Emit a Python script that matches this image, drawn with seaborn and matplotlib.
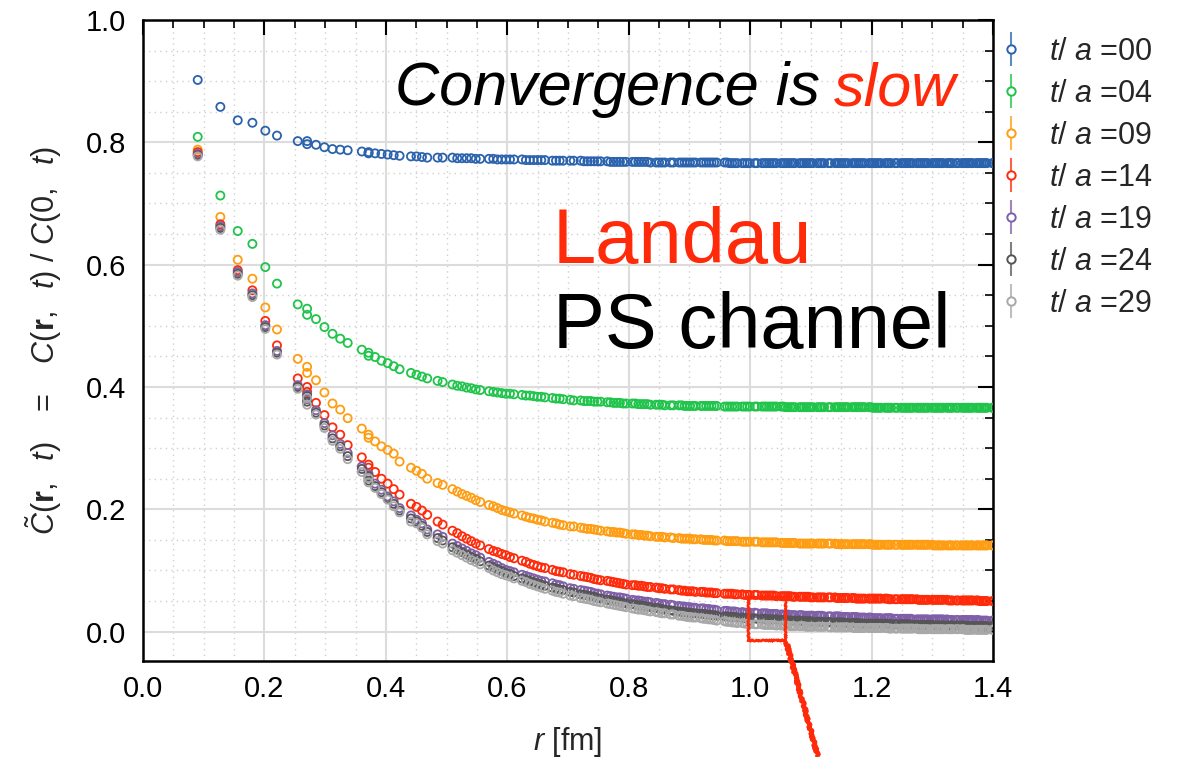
import matplotlib
matplotlib.use("Agg")
import matplotlib.pyplot as plt
from matplotlib.lines import Line2D
from matplotlib.patches import Rectangle
from matplotlib.ticker import MultipleLocator, FormatStrFormatter
import numpy as np
import pandas as pd
import seaborn as sns

# Lattice spacing used to convert the shell index n = |r/a|^2 to fm
LATTICE_SPACING_FM = 0.0901

# shells (|r/a|^2) of the lattice; 9 and 17 hold two inequivalent vector classes
shell = [
    1, 2, 3, 4, 5, 6, 8, 9, 9, 10,
    11, 12, 13, 14, 16, 17, 17, 18, 19, 20,
    21, 22, 24, 25, 26, 27, 29,
    30, 32, 33, 34, 35, 36, 37, 38, 40, 41,
    42, 43, 44,
    45, 46, 48, 49, 50, 51, 52, 53, 54, 56,
    57, 58, 59, 61,
    62, 64, 65, 66, 67, 68, 69, 70, 72, 73,
    74, 75, 76, 77, 78,
    80, 81, 82, 83, 84, 85, 86, 88, 89, 90,
    91, 93, 94, 96, 97, 98, 99,
    100, 101, 102, 104, 105, 106, 107, 108, 109, 110,
    113, 114, 115, 116, 117, 118, 120, 121, 122, 123,
    125, 126, 128, 129, 130, 131, 132, 133, 134, 136,
    137, 138, 139, 140, 141, 142, 144, 145, 146, 147,
    148, 149,
    150, 152, 153, 154, 155, 157, 158, 160, 161, 162,
    163, 164, 165, 166, 168, 169, 170, 171, 172, 173,
    174, 176, 177,
    178, 179, 180, 181, 182, 184, 185, 186, 187, 189,
    190, 192, 193, 194, 195, 196, 197, 198, 200, 201,
    202, 203, 204, 205, 206, 208,
    209, 210, 211, 212, 213, 214, 216, 217, 218, 219,
    221, 222, 224, 225, 226, 227, 228, 229, 230, 232,
    233, 234, 235, 236, 237, 238, 241, 242,
]

c_t00 = [
    0.902, 0.858, 0.836, 0.832, 0.819, 0.811, 0.802, 0.802, 0.797, 0.796,
    0.792, 0.789, 0.788, 0.787, 0.785, 0.784, 0.782, 0.782, 0.781, 0.780,
    0.779, 0.778, 0.777, 0.777, 0.776, 0.775, 0.775,
    0.775, 0.775, 0.774, 0.774, 0.774, 0.774, 0.773, 0.773, 0.773, 0.773,
    0.772, 0.772, 0.772,
    0.772, 0.772, 0.772, 0.771, 0.771, 0.771, 0.771, 0.771, 0.771, 0.770,
    0.770, 0.770, 0.770, 0.770,
    0.770, 0.770, 0.769, 0.769, 0.769, 0.769, 0.769, 0.769, 0.769, 0.768,
    0.768, 0.768, 0.768, 0.768, 0.768,
    0.768, 0.768, 0.768, 0.768, 0.768, 0.768, 0.767, 0.767, 0.767, 0.767,
    0.767, 0.767, 0.767, 0.767, 0.767, 0.767, 0.767,
    0.767, 0.767, 0.767, 0.767, 0.767, 0.767, 0.767, 0.767, 0.767, 0.767,
    0.767, 0.767, 0.766, 0.766, 0.766, 0.766, 0.766, 0.766, 0.766, 0.766,
    0.766, 0.766, 0.766, 0.766, 0.766, 0.766, 0.766, 0.766, 0.766, 0.766,
    0.766, 0.766, 0.766, 0.766, 0.766, 0.766, 0.766, 0.766, 0.766, 0.766,
    0.766, 0.766,
    0.766, 0.766, 0.766, 0.766, 0.766, 0.766, 0.766, 0.766, 0.766, 0.766,
    0.766, 0.766, 0.766, 0.766, 0.766, 0.766, 0.766, 0.766, 0.766, 0.766,
    0.766, 0.766, 0.766,
    0.766, 0.766, 0.766, 0.766, 0.766, 0.766, 0.766, 0.766, 0.766, 0.766,
    0.766, 0.766, 0.766, 0.766, 0.766, 0.766, 0.766, 0.766, 0.766, 0.766,
    0.766, 0.766, 0.766, 0.766, 0.766, 0.766,
    0.766, 0.766, 0.766, 0.766, 0.766, 0.766, 0.766, 0.766, 0.766, 0.766,
    0.766, 0.766, 0.766, 0.766, 0.766, 0.766, 0.766, 0.766, 0.766, 0.766,
    0.766, 0.766, 0.766, 0.766, 0.766, 0.766, 0.766, 0.766,
]

c_t04 = [
    0.809, 0.713, 0.655, 0.634, 0.596, 0.569, 0.535, 0.528, 0.518, 0.511,
    0.498, 0.487, 0.479, 0.472, 0.461, 0.456, 0.451, 0.449, 0.443, 0.439,
    0.434, 0.429, 0.423, 0.420, 0.417, 0.414, 0.410,
    0.408, 0.404, 0.402, 0.401, 0.399, 0.398, 0.396, 0.395, 0.393, 0.392,
    0.391, 0.390, 0.389,
    0.389, 0.388, 0.387, 0.386, 0.386, 0.385, 0.384, 0.384, 0.383, 0.382,
    0.381, 0.381, 0.380, 0.379,
    0.378, 0.378, 0.377, 0.377, 0.377, 0.376, 0.376, 0.376, 0.375, 0.375,
    0.374, 0.374, 0.374, 0.373, 0.373,
    0.373, 0.373, 0.372, 0.372, 0.372, 0.372, 0.371, 0.371, 0.371, 0.371,
    0.370, 0.370, 0.370, 0.370, 0.370, 0.369, 0.369,
    0.369, 0.369, 0.369, 0.369, 0.369, 0.369, 0.369, 0.369, 0.369, 0.369,
    0.368, 0.368, 0.368, 0.368, 0.368, 0.368, 0.368, 0.368, 0.368, 0.368,
    0.368, 0.368, 0.368, 0.368, 0.368, 0.368, 0.368, 0.368, 0.368, 0.368,
    0.368, 0.367, 0.367, 0.367, 0.367, 0.367, 0.367, 0.367, 0.367, 0.367,
    0.367, 0.367,
    0.367, 0.367, 0.367, 0.367, 0.367, 0.367, 0.367, 0.367, 0.367, 0.367,
    0.367, 0.367, 0.367, 0.367, 0.367, 0.367, 0.367, 0.367, 0.367, 0.367,
    0.367, 0.367, 0.367,
    0.366, 0.366, 0.366, 0.366, 0.366, 0.366, 0.366, 0.366, 0.366, 0.366,
    0.366, 0.366, 0.366, 0.366, 0.366, 0.366, 0.366, 0.366, 0.366, 0.366,
    0.366, 0.366, 0.366, 0.366, 0.366, 0.366,
    0.366, 0.366, 0.366, 0.366, 0.366, 0.366, 0.366, 0.366, 0.366, 0.366,
    0.366, 0.366, 0.366, 0.366, 0.366, 0.366, 0.366, 0.366, 0.366, 0.366,
    0.366, 0.366, 0.366, 0.366, 0.366, 0.366, 0.366, 0.366,
]

c_t09 = [
    0.788, 0.678, 0.608, 0.577, 0.530, 0.494, 0.446, 0.433, 0.423, 0.411,
    0.391, 0.373, 0.363, 0.349, 0.332, 0.322, 0.317, 0.311, 0.303, 0.297,
    0.291, 0.278, 0.268, 0.263, 0.258, 0.250, 0.243,
    0.240, 0.233, 0.229, 0.225, 0.222, 0.219, 0.215, 0.212, 0.207, 0.205,
    0.202, 0.199, 0.197,
    0.195, 0.193, 0.190, 0.188, 0.186, 0.185, 0.183, 0.182, 0.180, 0.178,
    0.177, 0.175, 0.174, 0.172,
    0.172, 0.170, 0.169, 0.168, 0.168, 0.167, 0.166, 0.165, 0.164, 0.163,
    0.163, 0.162, 0.162, 0.161, 0.160,
    0.159, 0.159, 0.158, 0.158, 0.157, 0.157, 0.156, 0.155, 0.155, 0.155,
    0.154, 0.154, 0.153, 0.153, 0.152, 0.152, 0.152,
    0.152, 0.151, 0.151, 0.151, 0.150, 0.150, 0.150, 0.150, 0.149, 0.149,
    0.149, 0.148, 0.148, 0.148, 0.148, 0.148, 0.147, 0.147, 0.147, 0.147,
    0.147, 0.147, 0.146, 0.146, 0.146, 0.146, 0.146, 0.146, 0.146, 0.145,
    0.145, 0.145, 0.145, 0.145, 0.145, 0.145, 0.144, 0.144, 0.144, 0.144,
    0.144, 0.144,
    0.144, 0.144, 0.144, 0.144, 0.144, 0.144, 0.144, 0.144, 0.143, 0.143,
    0.143, 0.143, 0.143, 0.143, 0.143, 0.143, 0.143, 0.143, 0.143, 0.143,
    0.143, 0.143, 0.143,
    0.142, 0.142, 0.142, 0.142, 0.142, 0.142, 0.142, 0.142, 0.142, 0.142,
    0.142, 0.142, 0.142, 0.142, 0.142, 0.142, 0.142, 0.142, 0.142, 0.142,
    0.142, 0.142, 0.142, 0.142, 0.142, 0.142,
    0.141, 0.141, 0.141, 0.141, 0.141, 0.141, 0.141, 0.141, 0.141, 0.141,
    0.141, 0.141, 0.141, 0.141, 0.141, 0.141, 0.141, 0.141, 0.141, 0.141,
    0.141, 0.141, 0.141, 0.141, 0.141, 0.141, 0.141, 0.141,
]

c_t14 = [
    0.784, 0.666, 0.591, 0.558, 0.508, 0.468, 0.414, 0.400, 0.392, 0.374,
    0.354, 0.334, 0.322, 0.305, 0.285, 0.273, 0.268, 0.261, 0.250, 0.242,
    0.233, 0.224, 0.209, 0.204, 0.198, 0.191, 0.180,
    0.175, 0.165, 0.161, 0.156, 0.152, 0.148, 0.144, 0.141, 0.135, 0.132,
    0.130, 0.127, 0.125,
    0.122, 0.120, 0.116, 0.114, 0.111, 0.109, 0.107, 0.105, 0.104, 0.101,
    0.099, 0.098, 0.097, 0.094,
    0.093, 0.091, 0.090, 0.089, 0.088, 0.086, 0.085, 0.084, 0.083, 0.082,
    0.081, 0.080, 0.079, 0.078, 0.077,
    0.076, 0.076, 0.075, 0.075, 0.074, 0.073, 0.073, 0.072, 0.071, 0.071,
    0.070, 0.069, 0.069, 0.068, 0.067, 0.067, 0.066,
    0.066, 0.066, 0.065, 0.065, 0.065, 0.064, 0.064, 0.064, 0.063, 0.063,
    0.062, 0.062, 0.062, 0.062, 0.061, 0.061, 0.061, 0.060, 0.060, 0.060,
    0.060, 0.060, 0.059, 0.059, 0.059, 0.059, 0.059, 0.059, 0.058, 0.058,
    0.058, 0.058, 0.058, 0.058, 0.057, 0.057, 0.057, 0.057, 0.057, 0.057,
    0.057, 0.056,
    0.056, 0.056, 0.056, 0.056, 0.056, 0.056, 0.056, 0.056, 0.055, 0.055,
    0.055, 0.055, 0.055, 0.055, 0.055, 0.055, 0.054, 0.054, 0.054, 0.054,
    0.054, 0.054, 0.054,
    0.054, 0.054, 0.054, 0.054, 0.054, 0.054, 0.054, 0.053, 0.053, 0.053,
    0.053, 0.053, 0.053, 0.053, 0.053, 0.053, 0.053, 0.053, 0.053, 0.052,
    0.052, 0.052, 0.052, 0.052, 0.052, 0.052,
    0.052, 0.052, 0.052, 0.052, 0.052, 0.052, 0.052, 0.051, 0.051, 0.051,
    0.051, 0.051, 0.051, 0.051, 0.051, 0.051, 0.051, 0.051, 0.051, 0.051,
    0.051, 0.050, 0.050, 0.050, 0.050, 0.050, 0.050, 0.050,
]

c_t19 = [
    0.781, 0.663, 0.588, 0.553, 0.501, 0.459, 0.403, 0.388, 0.380, 0.362,
    0.341, 0.321, 0.307, 0.292, 0.270, 0.258, 0.251, 0.242, 0.232, 0.221,
    0.213, 0.202, 0.190, 0.183, 0.177, 0.167, 0.159,
    0.155, 0.144, 0.140, 0.136, 0.132, 0.128, 0.125, 0.121, 0.114, 0.111,
    0.108, 0.104, 0.101,
    0.099, 0.097, 0.093, 0.091, 0.089, 0.087, 0.085, 0.083, 0.082, 0.079,
    0.077, 0.076, 0.074, 0.071,
    0.070, 0.068, 0.067, 0.066, 0.065, 0.063, 0.062, 0.061, 0.059, 0.058,
    0.057, 0.056, 0.056, 0.055, 0.054,
    0.052, 0.051, 0.051, 0.050, 0.049, 0.049, 0.048, 0.047, 0.046, 0.045,
    0.045, 0.044, 0.043, 0.042, 0.041, 0.041, 0.040,
    0.040, 0.039, 0.039, 0.038, 0.038, 0.037, 0.037, 0.036, 0.036, 0.035,
    0.034, 0.034, 0.033, 0.033, 0.033, 0.032, 0.032, 0.031, 0.031, 0.031,
    0.031, 0.030, 0.030, 0.030, 0.030, 0.029, 0.029, 0.029, 0.029, 0.028,
    0.028, 0.028, 0.028, 0.027, 0.027, 0.027, 0.027, 0.027, 0.026, 0.026,
    0.026, 0.026,
    0.026, 0.026, 0.026, 0.026, 0.025, 0.025, 0.025, 0.025, 0.025, 0.025,
    0.024, 0.024, 0.024, 0.024, 0.024, 0.024, 0.024, 0.023, 0.023, 0.023,
    0.023, 0.023, 0.023,
    0.022, 0.022, 0.022, 0.022, 0.022, 0.022, 0.022, 0.022, 0.022, 0.021,
    0.021, 0.021, 0.021, 0.021, 0.021, 0.021, 0.021, 0.020, 0.020, 0.020,
    0.020, 0.020, 0.020, 0.020, 0.020,
    0.020,
    0.020, 0.020, 0.020, 0.020, 0.020, 0.020, 0.020, 0.019, 0.019, 0.019,
    0.019, 0.019, 0.019, 0.019, 0.019, 0.019, 0.019, 0.019, 0.019, 0.019,
    0.019, 0.018, 0.018, 0.018, 0.018, 0.018, 0.018, 0.018,
]

c_t24 = [
    0.779, 0.660, 0.585, 0.550, 0.498, 0.456, 0.400, 0.385, 0.376, 0.358,
    0.337, 0.316, 0.303, 0.287, 0.266, 0.254, 0.247, 0.238, 0.228, 0.218,
    0.209, 0.198, 0.185, 0.180, 0.173, 0.163, 0.153,
    0.149, 0.138, 0.134, 0.130, 0.126, 0.122, 0.119, 0.115, 0.108, 0.105,
    0.102, 0.099, 0.096,
    0.094, 0.091, 0.087, 0.085, 0.083, 0.081, 0.079, 0.077, 0.075, 0.072,
    0.071, 0.069, 0.068, 0.065,
    0.064, 0.061, 0.060, 0.059, 0.058, 0.057, 0.055, 0.054, 0.052, 0.051,
    0.050, 0.049, 0.048, 0.047, 0.046,
    0.045, 0.044, 0.043, 0.043, 0.042, 0.041, 0.040, 0.039, 0.038, 0.037,
    0.036, 0.035, 0.034, 0.033, 0.032, 0.032, 0.031,
    0.031, 0.030, 0.030, 0.029, 0.029, 0.028, 0.028, 0.027, 0.027, 0.026,
    0.025, 0.025, 0.024, 0.024, 0.024, 0.023, 0.023, 0.022, 0.022, 0.022,
    0.022, 0.021, 0.021, 0.021, 0.020, 0.020, 0.020, 0.020, 0.020, 0.019,
    0.019, 0.019, 0.018, 0.018, 0.018, 0.018, 0.018, 0.017, 0.017, 0.017,
    0.017, 0.017,
    0.016, 0.016, 0.016, 0.016, 0.016, 0.016, 0.015, 0.015, 0.015, 0.015,
    0.015, 0.015, 0.014, 0.014, 0.014, 0.014, 0.014, 0.014, 0.013, 0.013,
    0.013, 0.013, 0.013,
    0.013, 0.013, 0.013, 0.013, 0.013, 0.013, 0.013, 0.012, 0.012, 0.012,
    0.012, 0.012, 0.012, 0.012, 0.012, 0.012, 0.011, 0.011, 0.011, 0.011,
    0.011, 0.011, 0.011, 0.011, 0.011, 0.011,
    0.010, 0.010, 0.010, 0.010, 0.010, 0.010, 0.010, 0.010, 0.010, 0.010,
    0.010, 0.010, 0.010, 0.010, 0.009, 0.009, 0.009, 0.009, 0.009, 0.009,
    0.009, 0.009, 0.009, 0.009, 0.009, 0.009, 0.009, 0.009,
]

c_t29 = [
    0.777, 0.657, 0.582, 0.547, 0.495, 0.453, 0.397, 0.382, 0.371, 0.355,
    0.333, 0.312, 0.299, 0.282, 0.261, 0.251, 0.244, 0.235, 0.225, 0.216,
    0.205, 0.195, 0.180, 0.177, 0.170, 0.159, 0.148,
    0.144, 0.133, 0.129, 0.125, 0.121, 0.117, 0.114, 0.110, 0.104, 0.100,
    0.097, 0.094, 0.092,
    0.090, 0.087, 0.083, 0.081, 0.078, 0.076, 0.074, 0.072, 0.070, 0.067,
    0.065, 0.064, 0.062, 0.059,
    0.058, 0.055, 0.054, 0.053, 0.052, 0.050, 0.049, 0.048, 0.046, 0.045,
    0.044, 0.043, 0.042, 0.041, 0.040,
    0.038, 0.037, 0.036, 0.036, 0.035, 0.034, 0.033, 0.032, 0.031, 0.030,
    0.030, 0.028, 0.028, 0.026, 0.026, 0.025, 0.024,
    0.024, 0.023, 0.023, 0.022, 0.021, 0.021, 0.020, 0.020, 0.019, 0.018,
    0.017, 0.016, 0.016, 0.015, 0.015, 0.014, 0.014, 0.013, 0.013, 0.012,
    0.012, 0.012, 0.012, 0.011, 0.011, 0.011, 0.011, 0.011, 0.010, 0.010,
    0.010, 0.010, 0.010, 0.009, 0.009, 0.009, 0.009, 0.009, 0.009, 0.008,
    0.008, 0.008,
    0.008, 0.008, 0.008, 0.008, 0.008, 0.008, 0.007, 0.007, 0.007, 0.007,
    0.007, 0.007, 0.007, 0.007, 0.007, 0.006, 0.006, 0.006, 0.006, 0.006,
    0.006, 0.006, 0.006,
    0.006, 0.006, 0.006, 0.006, 0.006, 0.006, 0.006, 0.005, 0.005, 0.005,
    0.005, 0.005, 0.005, 0.005, 0.005, 0.005, 0.005, 0.005, 0.005, 0.004,
    0.004, 0.004, 0.004, 0.004, 0.004, 0.004,
    0.004, 0.004, 0.004, 0.004, 0.004, 0.004, 0.004, 0.004, 0.004, 0.004,
    0.004, 0.004, 0.004, 0.004, 0.003, 0.003, 0.003, 0.003, 0.003, 0.003,
    0.003, 0.003, 0.003, 0.003, 0.003, 0.003, 0.003, 0.003,
]

series_labels = ["00", "04", "09", "14", "19", "24", "29"]
series_values = [c_t00, c_t04, c_t09, c_t14, c_t19, c_t24, c_t29]
series_colors = ["#2a62ad", "#1fc44a", "#ff9d12", "#ff2a0a",
                 "#7f5fa8", "#555555", "#a8a8a8"]

RED = "#ff2a0a"
# highlighted window (r, C~) in data units
ZOOM_BOX = (0.997, -0.013, 0.061, 0.070)

for vals in series_values:
    assert len(vals) == len(shell), len(vals)

r_fm = LATTICE_SPACING_FM * np.sqrt(np.asarray(shell, dtype=float))
label_of = {s: rf"$t/\ a$ ={s}" for s in series_labels}
frames = [pd.DataFrame({"r": r_fm, "C": v, "t": label_of[s]})
          for s, v in zip(series_labels, series_values)]
df = pd.concat(frames, ignore_index=True)

sns.set_theme(style="white")
plt.rcParams.update({
    "font.family": ["Liberation Sans", "DejaVu Sans"],
    "mathtext.fontset": "custom",
    "mathtext.rm": "Liberation Sans",
    "mathtext.it": "Liberation Sans:italic",
    "mathtext.bf": "Liberation Sans:bold",
    "axes.edgecolor": "black",
    "axes.linewidth": 1.6,
})

W, H = 1187, 757
fig = plt.figure(figsize=(W / 100, H / 100), dpi=100)
ax = fig.add_axes([143 / W, 1 - 661 / H, (993 - 143) / W, (661 - 20) / H])

palette = {label_of[s]: c for s, c in zip(series_labels, series_colors)}
sns.scatterplot(data=df, x="r", y="C", hue="t", palette=palette,
                s=34, linewidth=1.3, legend=False, ax=ax, zorder=3)
pc = ax.collections[0]
pc.set_edgecolors(pc.get_facecolors())
pc.set_facecolors("none")

ax.set_xlim(0, 1.4)
ax.set_ylim(-0.048, 1.0)
ax.xaxis.set_major_locator(MultipleLocator(0.2))
ax.xaxis.set_minor_locator(MultipleLocator(0.05))
ax.yaxis.set_major_locator(MultipleLocator(0.2))
ax.yaxis.set_minor_locator(MultipleLocator(0.05))
ax.xaxis.set_major_formatter(FormatStrFormatter("%.1f"))
ax.yaxis.set_major_formatter(FormatStrFormatter("%.1f"))

ax.set_axisbelow(True)
ax.grid(which="major", color="#dcdcdc", lw=1.5, ls="-")
ax.grid(which="minor", color="#d0d0d0", lw=1.0, ls=(0, (1, 3)))

ax.tick_params(which="both", direction="in", top=True, right=True,
               colors="black", labelsize=21)
ax.tick_params(which="major", length=11, width=1.5)
ax.tick_params(which="minor", length=6, width=1.2)
ax.tick_params(axis="x", which="major", pad=10)
ax.tick_params(axis="y", which="major", pad=12)
for sp in ax.spines.values():
    sp.set_linewidth(1.8)
    sp.set_color("black")

ax.set_xlabel(r"$r$ [fm]", fontsize=22, labelpad=16)
ax.set_ylabel(r"$\tilde{C}(\mathbf{r},\ \ t)\ \ \ =\ \ \ C(\mathbf{r},\ \ t)\ /\ C(0,\ \ t)$",
              fontsize=22, labelpad=16)

# annotations
fig.text(395 / W, 1 - 105 / H, "Convergence is", fontsize=44, style="italic",
         color="black", va="baseline", ha="left")
fig.text(834 / W, 1 - 105 / H, "slow", fontsize=44, style="italic",
         color=RED, va="baseline", ha="left")
fig.text(553 / W, 1 - 263 / H, "Landau", fontsize=56, color=RED,
         va="baseline", ha="left")
fig.text(553 / W, 1 - 348 / H, "PS channel", fontsize=56, color="black",
         va="baseline", ha="left")

box = Rectangle(ZOOM_BOX[:2], ZOOM_BOX[2], ZOOM_BOX[3], fill=False,
                ec=RED, lw=2.0, zorder=5, clip_on=False)
box.set_sketch_params(scale=0.6, length=4, randomness=3)
ax.add_patch(box)
pointer = Line2D([786 / W, 818 / W], [1 - 641 / H, 0.0], transform=fig.transFigure,
                 color=RED, lw=3.2, solid_capstyle="butt")
pointer.set_sketch_params(scale=1.3, length=3, randomness=5)
fig.add_artist(pointer)

# legend with error-bar style handles
handles = []
for s, c in zip(series_labels, series_colors):
    bar = Line2D([], [], ls="none", marker="|", markersize=24, mew=1.5,
                 color=c, alpha=0.75)
    dot = Line2D([], [], ls="none", marker="o", markersize=6,
                 mfc="white", mec=c, mew=1.4)
    handles.append((bar, dot))
fig.legend(handles, [label_of[s] for s in series_labels],
           loc="upper left", bbox_to_anchor=(996 / W, 1 - 37 / H),
           frameon=False, fontsize=22, handlelength=1.0, handletextpad=0.75,
           labelspacing=0.39, borderaxespad=0, borderpad=0)

fig.savefig("out.png", dpi=100)
